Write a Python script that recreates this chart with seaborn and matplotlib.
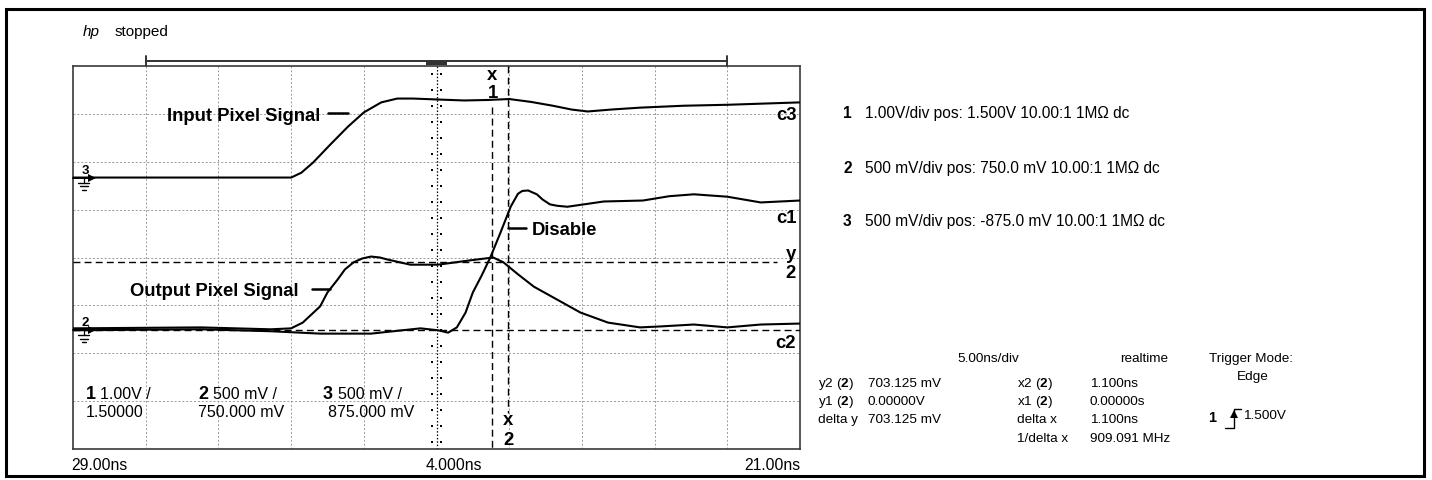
import numpy as np
import pandas as pd
import matplotlib
matplotlib.use('Agg')
import matplotlib.pyplot as plt
from matplotlib.patches import Rectangle
import seaborn as sns

#setting parameters
sns.set_theme(style='white')
plt.rcParams['font.family'] = ['Liberation Sans', 'DejaVu Sans']
plt.rcParams['mathtext.fontset'] = 'custom'
plt.rcParams['mathtext.rm'] = 'Liberation Sans'
plt.rcParams['mathtext.bf'] = 'Liberation Sans:bold'

#trace readings: time in ns, level in screen divisions (0 = centre)
t_input = [-21.0, -6.7, -6.0, -5.3, -4.5, -3.3, -2.1, -1.0, 0.2, 1.3, 2.4, 4.1, 5.9, 7.5,
           9.0, 10.5, 12.0, 13.3, 14.4, 16.0, 18.0, 21.0, 24.0, 29.0]
v_input = [1.67, 1.67, 1.67, 1.77, 1.98, 2.36, 2.73, 3.03, 3.24, 3.32, 3.32, 3.30, 3.28, 3.29,
           3.31, 3.25, 3.17, 3.09, 3.05, 3.09, 3.13, 3.17, 3.19, 3.24]

t_output = [-21.0, -12.2, -7.4, -6.0, -5.2, -4.6, -4.0, -3.5, -2.8, -2.3, -1.7, -1.1, -0.5, 0.1,
            0.6, 2.2, 4.1, 6.3, 7.9, 8.6, 9.6, 10.7, 12.3, 13.9, 15.8, 18.0, 19.4, 21.7, 24.0,
            26.3, 29.0]
v_output = [-1.48, -1.46, -1.50, -1.48, -1.36, -1.19, -1.02, -0.73, -0.46, -0.25, -0.10, -0.02, 0.02, 0.00,
            -0.04, -0.15, -0.15, -0.06, 0.00, -0.10, -0.35, -0.61, -0.88, -1.15, -1.36, -1.46, -1.44, -1.40, -1.46,
            -1.40, -1.38]

t_disable = [-21.0, -12.2, -7.4, -4.0, -0.5, 2.9, 4.1, 4.8, 5.4, 6.0, 6.5, 7.1, 7.7, 8.4,
             9.1, 9.6, 9.9, 10.3, 10.9, 11.3, 11.8, 12.3, 13.0, 14.6, 15.5, 18.2, 20.0, 21.7,
             24.0, 26.3, 29.0]
v_disable = [-1.52, -1.50, -1.54, -1.59, -1.59, -1.48, -1.52, -1.57, -1.46, -1.15, -0.73, -0.38, 0.00, 0.52,
             1.06, 1.33, 1.39, 1.40, 1.32, 1.21, 1.11, 1.08, 1.06, 1.13, 1.17, 1.19, 1.28, 1.32,
             1.27, 1.15, 1.19]

#cursors and ground levels
x1_cursor, x2_cursor = 7.85, 8.95
y1_cursor, y2_cursor = -1.52, -0.10
ground_levels = {'3': 1.67, '2': -1.52}

#screen settings
t_min, t_max = -21.0, 29.0
ns_per_div = 5.0

channel_lines = ['1.00V/div pos: 1.500V 10.00:1 1M\u03a9 dc',
                 '500 mV/div pos: 750.0 mV 10.00:1 1M\u03a9 dc',
                 '500 mV/div pos: -875.0 mV 10.00:1 1M\u03a9 dc']
scale_top = ['1.00V /', '500 mV /', '500 mV /']
scale_bot = ['1.50000', '750.000 mV', '875.000 mV']
time_labels = ['29.00ns', '4.000ns', '21.00ns']
meas_left = [(r'y2 ($\mathbf{2}$)', '703.125 mV'), (r'y1 ($\mathbf{2}$)', '0.00000V'),
             ('delta y', '703.125 mV')]
meas_right = [(r'x2 ($\mathbf{2}$)', '1.100ns'), (r'x1 ($\mathbf{2}$)', '0.00000s'),
              ('delta x', '1.100ns'), ('1/delta x', '909.091 MHz')]

#building a long table of the three traces
frames = []
for name, t, v in [('input', t_input, v_input), ('output', t_output, v_output),
                   ('disable', t_disable, v_disable)]:
    frames.append(pd.DataFrame({'time': t, 'level': v, 'trace': name}))
traces = pd.concat(frames, ignore_index=True)

W, H = 1432, 480
fig = plt.figure(figsize=(W / 100, H / 100), dpi=100)
ax = fig.add_axes([73 / W, 1 - 449 / H, 727 / W, 383 / H])
ax.set_xlim(t_min, t_max)
ax.set_ylim(-4, 4)

#graticule
grid_kw = dict(color='#9a9a9a', lw=0.7, ls=(0, (2, 2)), zorder=1)
for gx in np.arange(t_min + ns_per_div, t_max - 0.1, ns_per_div):
    if abs(gx - 4.0) > 0.01:
        ax.axvline(gx, **grid_kw)
for gy in range(-3, 4):
    ax.axhline(gy, **grid_kw)
ax.axvline(4.0, color='black', lw=0.9, ls=(0, (1.2, 1.5)), zorder=2)
tick_y = 4 - (8 + 16 * np.arange(24)) / 47.9
for off in (-0.34, 0.34):
    ax.scatter(np.full(len(tick_y), 4.0 + off), tick_y, marker='s', s=2.5, color='black',
               linewidths=0, zorder=2)

#cursors
cur_kw = dict(color='black', lw=1.0, ls=(0, (5, 3)), zorder=3)
ax.plot([t_min, 27.45], [y2_cursor, y2_cursor], **cur_kw)
ax.plot([t_min, t_max], [y1_cursor, y1_cursor], **cur_kw)
ax.plot([x1_cursor, x1_cursor], [3.15, -4], **cur_kw)
ax.plot([x2_cursor, x2_cursor], [4, -3.24], **cur_kw)

#traces
sns.lineplot(data=traces, x='time', y='level', units='trace', estimator=None, sort=False,
             color='black', lw=1.5, ax=ax, zorder=4)

ax.set_xticks([])
ax.set_yticks([])
ax.set_xlabel('')
ax.set_ylabel('')
for s in ax.spines.values():
    s.set_color('#3a3a3a')
    s.set_linewidth(1.2)

#time window bar above the screen
ax.plot([-16, 24], [4.11, 4.11], color='#333333', lw=1.4, clip_on=False)
for bx in (-16, 24):
    ax.plot([bx, bx], [4.20, 4.01], color='#333333', lw=1.4, clip_on=False)
ax.plot([3.3, 4.7], [4.07, 4.07], color='#333333', lw=3, clip_on=False, solid_capstyle='butt')

#overlay in pixel units for the text panels
ov = fig.add_axes([0, 0, 1, 1])
ov.set_xlim(0, W)
ov.set_ylim(H, 0)
ov.axis('off')
ov.patch.set_visible(False)
ov.add_patch(Rectangle((6, 9), 1418, 467, fill=False, lw=2.2, edgecolor='black'))


def to_px(t, d):
    x, y = ax.transData.transform((t, d))
    return x, H - y


def txt(x, y, s, size=11.2, **kw):
    ov.text(x, y, s, fontsize=size, va='baseline', color='black', **kw)


#ground markers
for ch, lev in ground_levels.items():
    x0, y0 = to_px(t_min, lev)
    ov.plot([x0, x0 + 19], [y0, y0], color='black', lw=1.4)
    ov.plot([x0 + 19], [y0], marker='>', ms=5.5, color='black', mew=0)
    ov.plot([x0 + 11, x0 + 11], [y0, y0 + 5], color='black', lw=0.9)
    for dy, hw in [(5, 5.5), (8.5, 3.8), (12, 1.8)]:
        ov.plot([x0 + 11 - hw, x0 + 11 + hw], [y0 + dy, y0 + dy], color='black', lw=1.0)
    txt(x0 + 12, y0 - 4, ch, size=9.5, fontweight='bold', ha='center')

#trace labels
bold = dict(size=13.3, fontweight='bold')
txt(167, 121, 'Input Pixel Signal', **bold)
ov.plot([328, 348], [113, 113], color='black', lw=1.8)
txt(130, 296, 'Output Pixel Signal', **bold)
ov.plot([312, 330], [289, 289], color='black', lw=1.8)
txt(532, 235, 'Disable', **bold)
ov.plot([508, 526], [228, 228], color='black', lw=1.8)
txt(797, 120, 'c3', ha='right', **bold)
txt(797, 223, 'c1', ha='right', **bold)
txt(796, 348, 'c2', ha='right', **bold)
txt(791, 259, 'y', ha='center', **bold)
txt(791, 278, '2', ha='center', **bold)
txt(492, 80, 'x', ha='center', **bold)
txt(493, 98, '1', ha='center', **bold)
txt(508, 425, 'x', ha='center', **bold)
txt(508, 445, '2', ha='center', **bold)

#channel scale boxes inside the screen
for i, (xb, xt, xs) in enumerate([(86, 100, 86), (198, 213, 198), (323, 338, 328)]):
    txt(xb, 399, str(i + 1), size=13, fontweight='bold')
    txt(xt, 399, scale_top[i], size=11.5)
    txt(xs, 417, scale_bot[i], size=11.5)

#time labels
txt(71, 470, time_labels[0], size=11.3)
txt(426, 470, time_labels[1], size=11.3)
txt(800, 470, time_labels[2], size=11.3, ha='right')

#header
txt(83, 36, 'hp', size=11, style='italic')
txt(115, 36, 'stopped', size=11)

#channel setup panel
for i, (line, yb) in enumerate(zip(channel_lines, [118, 173, 226])):
    txt(843, yb, str(i + 1), size=11.2, fontweight='bold')
    txt(865, yb, line, size=11.2)

#measurement panel
small = 9.7
txt(957, 362, '5.00ns/div', size=small)
txt(1168, 362, 'realtime', size=small, ha='right')
txt(1251, 362, 'Trigger Mode:', size=small, ha='center')
txt(1253, 380, 'Edge', size=small, ha='center')
for (lab, val), yb in zip(meas_left, [387, 405, 423]):
    txt(818, yb, lab, size=small)
    txt(868, yb, val, size=small)
for (lab, val), yb in zip(meas_right, [387, 405, 423, 442]):
    txt(1017, yb, lab, size=small)
    txt(1090, yb, val, size=small)
txt(1208, 422, '1', size=10.5, fontweight='bold')
ov.plot([1225, 1234, 1234, 1241], [428, 428, 409, 409], color='black', lw=1.0)
ov.plot([1234], [414], marker='^', ms=5.5, color='black', mew=0)
txt(1243, 419, '1.500V', size=small)

plt.savefig('out.png', dpi=100)
